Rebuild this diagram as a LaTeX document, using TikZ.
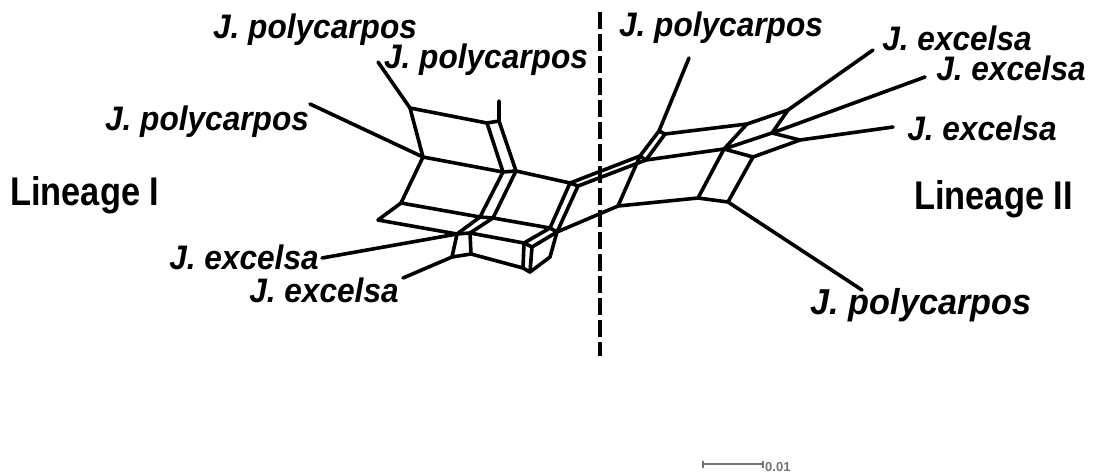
\documentclass[tikz,border=0pt]{standalone}
\usepackage{fontspec}
\usepackage{graphicx}
\setmainfont{Liberation Sans}
\newcommand{\hsqz}[2]{\scalebox{#1}[1]{#2}}
\begin{document}
\begin{tikzpicture}[x=1pt,y=-1pt,
  net/.style={line width=3.6pt, line cap=round, line join=round},
  lbl/.style={font=\fontsize{34}{34}\selectfont\bfseries\itshape, inner sep=0pt},
  lbig/.style={font=\fontsize{36}{36}\selectfont\bfseries\itshape, inner sep=0pt},
  lin/.style={font=\fontsize{40}{40}\selectfont\bfseries, inner sep=0pt},
  divider/.style={line width=4pt, dash pattern=on 17pt off 5pt},
  scalebar/.style={draw=black!55, line width=1.4pt}]
\useasboundingbox (0,0) rectangle (1094,475);
% ---- left network vertices
\coordinate (L1) at (410,108);
\coordinate (L2) at (487,123);
\coordinate (L2b) at (499,121);
\coordinate (L3) at (423,157);
\coordinate (L4) at (503,172);
\coordinate (L4b) at (516,171);
\coordinate (L5) at (570,183);
\coordinate (L5b) at (578,186);
\coordinate (L6) at (401,203);
\coordinate (L7) at (480,217);
\coordinate (L7b) at (493,218);
\coordinate (L8) at (550,228);
\coordinate (L8b) at (557,232);
\coordinate (L9) at (378,220);
\coordinate (L10) at (457,234);
\coordinate (L10b) at (470,233);
\coordinate (L11) at (524,243);
\coordinate (L11b) at (532,247);
\coordinate (L13) at (523,268);
\coordinate (L13b) at (530,272);
\coordinate (L14) at (452,257);
\coordinate (L14b) at (471,254);
\coordinate (L15) at (550,257);
% leaf ends
\coordinate (Lt1) at (378,62);
\coordinate (Lt2) at (499,101);
\coordinate (Lt3) at (310,104);
\coordinate (Le1) at (322,258);
\coordinate (Le2) at (403,278);
% ---- right network vertices
\coordinate (Q1) at (659,131);
\coordinate (Q1b) at (665,134);
\coordinate (Q2) at (640,156);
\coordinate (Q2b) at (646,160);
\coordinate (Q3) at (618,206);
\coordinate (Q4) at (698,198);
\coordinate (Q5) at (728,202);
\coordinate (Q6) at (747,124);
\coordinate (Q7) at (788,110);
\coordinate (Q8) at (724,149);
\coordinate (Q9) at (753,157);
\coordinate (Q10) at (800,140);
\coordinate (Q11) at (772,133);
\coordinate (Rt1) at (689,58);
\coordinate (Re1) at (873,50);
\coordinate (Re2) at (925,77);
\coordinate (Re3) at (893,127);
\coordinate (Rb) at (862,290);
% ---- edges left
\draw[net] (Lt1) -- (L1) -- (L2) -- (L2b) -- (Lt2);
\draw[net] (Lt3) -- (L3);
\draw[net] (L1) -- (L3) -- (L4) -- (L4b) -- (L5) -- (L5b);
\draw[net] (L2) -- (L4);
\draw[net] (L2b) -- (L4b);
\draw[net] (L3) -- (L6) -- (L7) -- (L7b) -- (L8) -- (L8b);
\draw[net] (L4) -- (L7);
\draw[net] (L4b) -- (L7b);
\draw[net] (L5) -- (L8);
\draw[net] (L5b) -- (L8b);
\draw[net] (L6) -- (L9) -- (L10) -- (L10b) -- (L11) -- (L11b);
\draw[net] (L7) -- (L10);
\draw[net] (L7b) -- (L10b);
\draw[net] (L8) -- (L11);
\draw[net] (L8b) -- (L11b);
\draw[net] (Le1) -- (L10);
\draw[net] (L10) -- (L14) -- (L14b) -- (L13) -- (L13b) -- (L15) -- (L8b);
\draw[net] (L10b) -- (L14b);
\draw[net] (L11) -- (L13);
\draw[net] (L11b) -- (L13b);
\draw[net] (Le2) -- (L14);
% ---- edges crossing
\draw[net] (L5) -- (Q2);
\draw[net] (L5b) -- (Q2b);
\draw[net] (L8b) -- (Q3);
% ---- edges right
\draw[net] (Rt1) -- (Q1) -- (Q1b) -- (Q6) -- (Q7) -- (Re1);
\draw[net] (Q1) -- (Q2) -- (Q2b) -- (Q8) -- (Q9) -- (Q10) -- (Re3);
\draw[net] (Q1b) -- (Q2b);
\draw[net] (Q2) -- (Q3) -- (Q4) -- (Q5) -- (Rb);
\draw[net] (Q4) -- (Q8);
\draw[net] (Q5) -- (Q9);
\draw[net] (Q6) -- (Q8) -- (Q11) -- (Q10);
\draw[net] (Q7) -- (Q11) -- (Re2);
% ---- divider
\coordinate (Dtop) at (600,12);
\coordinate (Dbot) at (600,356);
\draw[divider] (Dtop) -- (Dbot);
% ---- labels
\node[lbl] (tl1) at (315,30) {\hsqz{0.93}{J. polycarpos}};
\node[lbl] (tl2) at (486,60) {\hsqz{0.93}{J. polycarpos}};
\node[lbl] (tl3) at (207,122) {\hsqz{0.93}{J. polycarpos}};
\node[lbl] (te1) at (244,257) {\hsqz{0.93}{J. excelsa}};
\node[lbl] (te2) at (324,290) {\hsqz{0.93}{J. excelsa}};
\node[lbl] (tr1) at (721,28) {\hsqz{0.93}{J. polycarpos}};
\node[lbl] (tre1) at (957,38) {\hsqz{0.93}{J. excelsa}};
\node[lbl] (tre2) at (1011,68) {\hsqz{0.93}{J. excelsa}};
\node[lbl] (tre3) at (982,128) {\hsqz{0.93}{J. excelsa}};
\node[lbig] (trb) at (921,305) {\hsqz{0.95}{J. polycarpos}};
\node[lin, anchor=west] (lin1) at (10,195) {\hsqz{0.86}{Lineage I}};
\node[lin, anchor=west] (lin2) at (914,199) {\hsqz{0.86}{Lineage II}};
% ---- scale bar
\coordinate (S1) at (703,464);
\coordinate (S2) at (763,464);
\draw[scalebar] (S1) -- (S2);
\draw[scalebar] ([yshift=-3.5pt]S1) -- ([yshift=3.5pt]S1);
\draw[scalebar] ([yshift=-3.5pt]S2) -- ([yshift=3.5pt]S2);
\node[anchor=west, inner sep=0pt, text=black!55, font=\fontsize{13}{13}\selectfont\bfseries] (sl) at (765,467) {0.01};
\end{tikzpicture}
\end{document}
